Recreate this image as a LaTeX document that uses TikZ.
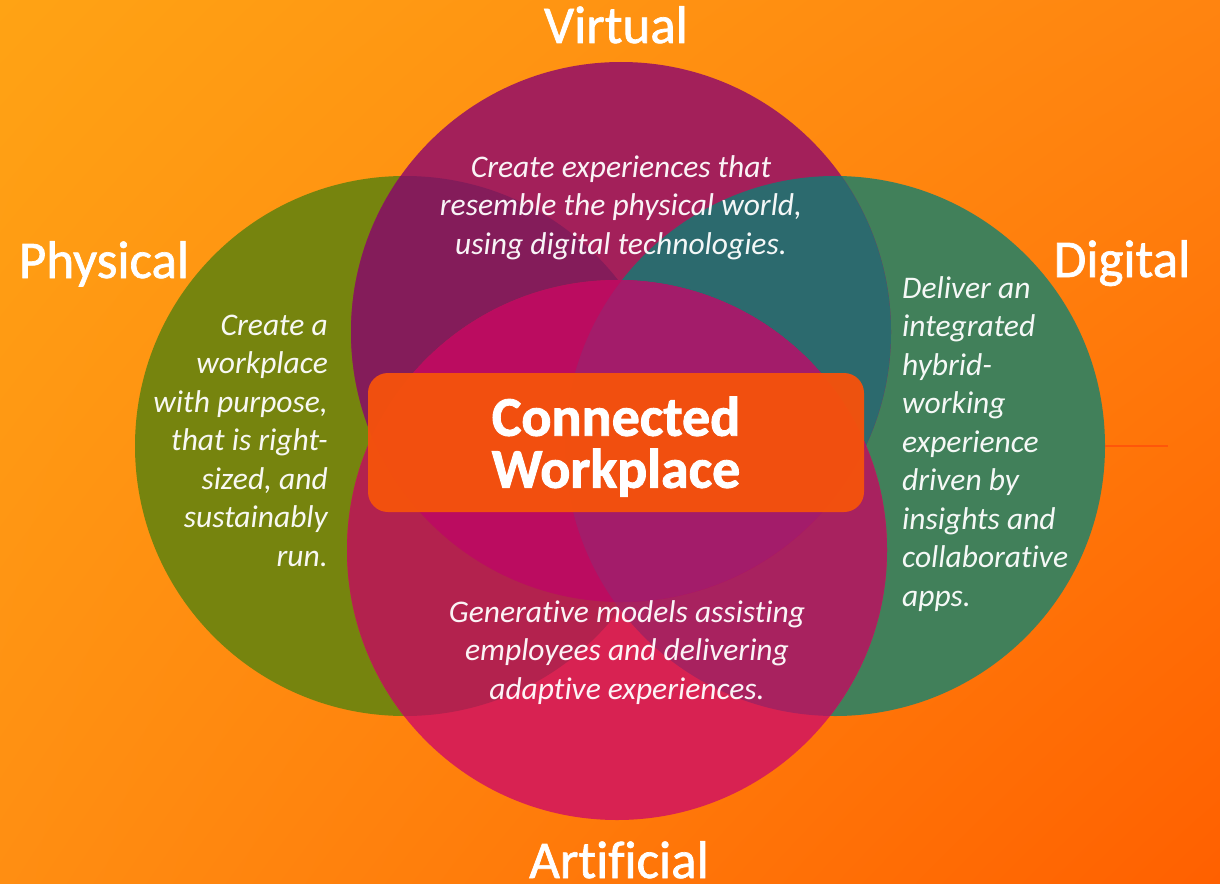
\documentclass[tikz,border=0pt]{standalone}
\usepackage{fontspec}
\usetikzlibrary{shadings}
\setmainfont[Ligatures=NoCommon]{Carlito}
\newfontfamily\semibold[Ligatures=NoCommon, FakeBold=1.3]{Carlito}
\newfontfamily\heavy[Ligatures=NoCommon, BoldFeatures={FakeBold=1.6}]{Carlito}
\definecolor{bgTL}{HTML}{FFA314}
\definecolor{bgTR}{HTML}{FF8410}
\definecolor{bgBL}{HTML}{FF8E12}
\definecolor{bgBR}{HTML}{FF6000}
\definecolor{colP}{HTML}{76840E}
\definecolor{colD}{HTML}{41805A}
\definecolor{colV}{HTML}{A3205A}
\definecolor{colA}{HTML}{D82252}
\definecolor{colPV}{HTML}{841C5A}
\definecolor{colVD}{HTML}{2C6A6E}
\definecolor{colPA}{HTML}{B3224E}
\definecolor{colAD}{HTML}{A8225F}
\definecolor{colVA}{HTML}{BB0C60}
\definecolor{colVAD}{HTML}{A31C6A}
\definecolor{colBox}{HTML}{F5520C}
\definecolor{colLine}{HTML}{FF560A}
\tikzset{
  circlabel/.style={text=white, inner sep=0pt, font=\semibold\fontsize{53}{60}\selectfont, anchor=base},
  para/.style={text=white, text opacity=0.95, inner sep=0pt, font=\fontsize{31.5}{38.5}\selectfont\itshape},
  centerbox/.style={fill=colBox, fill opacity=0.96, rounded corners=20pt, minimum width=496pt, minimum height=139pt, inner sep=0pt},
  boxtext/.style={text=white, inner sep=0pt, align=center, font=\heavy\fontsize{56}{52}\selectfont\bfseries},
  venn/.style={radius=270pt},
}
\newcommand{\firststrut}{\rule{0pt}{24pt}}
\begin{document}
\begin{tikzpicture}[x=1pt,y=-1pt]
\useasboundingbox (0,0) rectangle (1220,883);
\shade[upper left=bgTL, upper right=bgTR, lower left=bgBL, lower right=bgBR] (0,0) rectangle (1220,883);
% circle centres
\coordinate (P) at (405,446);
\coordinate (D) at (835,446);
\coordinate (V) at (621,332);
\coordinate (A) at (617,550);
% single circles
\fill[colP] (P) circle[venn];
\fill[colD] (D) circle[venn];
\fill[colV] (V) circle[venn];
\fill[colA] (A) circle[venn];
% pairwise overlaps
\begin{scope}\clip (P) circle[venn]; \fill[colPV] (V) circle[venn];\end{scope}
\begin{scope}\clip (D) circle[venn]; \fill[colVD] (V) circle[venn];\end{scope}
\begin{scope}\clip (P) circle[venn]; \fill[colPA] (A) circle[venn];\end{scope}
\begin{scope}\clip (D) circle[venn]; \fill[colAD] (A) circle[venn];\end{scope}
\begin{scope}\clip (V) circle[venn]; \fill[colVA] (A) circle[venn];\end{scope}
\begin{scope}\clip (V) circle[venn]; \clip (D) circle[venn]; \fill[colVAD] (A) circle[venn];\end{scope}
% stray line at right
\coordinate (lnA) at (1105,446);
\coordinate (lnB) at (1168,446);
\draw[colLine, line width=2pt] (lnA) -- (lnB);
% labels
\node[circlabel] (lblV) at (616,43) {Virtual};
\node[circlabel] (lblP) at (104,278) {Physical};
\node[circlabel] (lblD) at (1122,277) {Digital};
\node[circlabel] (lblA) at (619,878) {Artificial};
% paragraphs
\node[para, align=center, anchor=north] (txtV) at (621,153)
  {\firststrut Create experiences that\\resemble the physical world,\\using digital technologies.};
\node[para, align=right, anchor=north east] (txtP) at (328,311)
  {\firststrut Create a\\workplace\\with purpose,\\that is right-\\sized, and\\sustainably\\run.};
\node[para, align=left, anchor=north west] (txtD) at (902,274)
  {\firststrut Deliver an\\integrated\\hybrid-\\working\\experience\\driven by\\insights and\\collaborative\\apps.};
\node[para, align=center, anchor=north] (txtA) at (627,598)
  {\firststrut Generative models assisting\\employees and delivering\\adaptive experiences.};
% central box
\node[centerbox] (box) at (616,442.5) {};
\node[boxtext] (cw) at (616,446.5) {Connected\\Workplace};
\end{tikzpicture}
\end{document}
